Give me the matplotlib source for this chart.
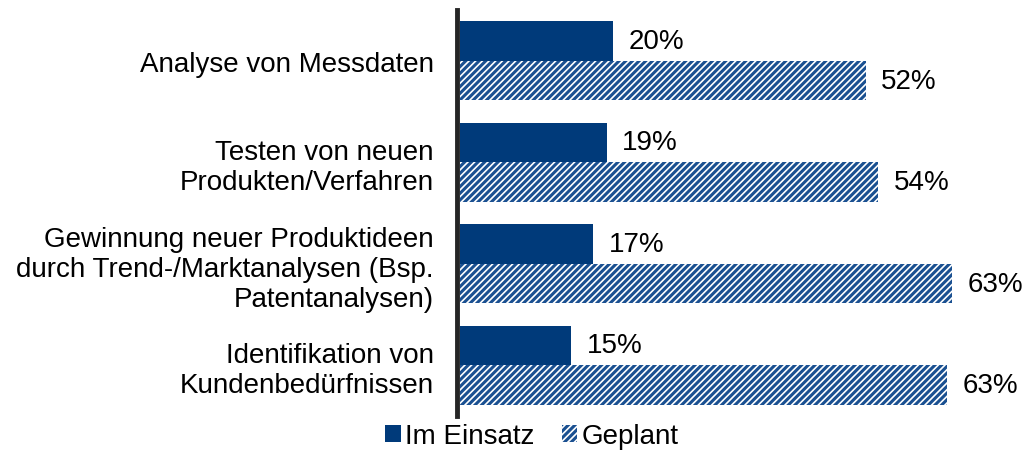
import matplotlib.pyplot as plt
import matplotlib.patches as mpatches
import numpy as np

plt.rcParams['font.family'] = ['Liberation Sans', 'DejaVu Sans']
plt.rcParams['hatch.linewidth'] = 2.2

categories = ["Analyse von Messdaten",
              "Testen von neuen\nProdukten/Verfahren",
              "Gewinnung neuer Produktideen\ndurch Trend-/Marktanalysen (Bsp.\nPatentanalysen)",
              "Identifikation von\nKundenbedürfnissen"]
im_einsatz = [19.7, 18.9, 17.2, 14.3]
geplant = [52.3, 53.9, 63.5, 62.8]
labels_einsatz = ["20%", "19%", "17%", "15%"]
labels_geplant = ["52%", "54%", "63%", "63%"]

dark = '#003a7a'
hatchcol = '#1a5091'
fs = 20

fig = plt.figure(figsize=(10.26, 4.77), dpi=100)
ax = fig.add_axes([460/1026, 1-417/477, 566/1026, 406/477])

y = np.arange(len(categories))
h = 0.39
ax.barh(y - h/2, im_einsatz, height=h, color=dark, linewidth=0)
ax.barh(y + h/2, geplant, height=h, color='white', edgecolor=hatchcol,
        hatch='/////', linewidth=0)

for yi, v, t in zip(y, im_einsatz, labels_einsatz):
    ax.text(v + 2.0, yi - h/2, t, va='center', ha='left', fontsize=fs)
for yi, v, t in zip(y, geplant, labels_geplant):
    ax.text(v + 2.0, yi + h/2, t, va='center', ha='left', fontsize=fs)

ax.set_xlim(0, 73)
ax.set_ylim(3.5, -0.5)
ax.set_yticks(y)
ax.set_yticklabels(categories)
for lab in ax.get_yticklabels():
    lab.set_multialignment('center')
ax.tick_params(axis='y', length=0, pad=17, labelsize=fs)
ax.set_xticks([])
for s in ['top', 'right', 'bottom']:
    ax.spines[s].set_visible(False)
ax.spines['left'].set_linewidth(3.5)
ax.spines['left'].set_color('#262626')
ax.spines['left'].set_position(('outward', 2))

h1 = mpatches.Patch(color=dark, linewidth=0)
h2 = mpatches.Patch(facecolor='white', edgecolor=hatchcol, hatch='/////', linewidth=0)
fig.legend([h1, h2], ["Im Einsatz", "Geplant"], loc='center',
           bbox_to_anchor=(532/1026, 1-437/477), ncol=2, frameon=False, fontsize=fs,
           handlelength=0.55, handleheight=0.55, handletextpad=0.15, columnspacing=1.0)

fig.savefig('out.png', dpi=100)
